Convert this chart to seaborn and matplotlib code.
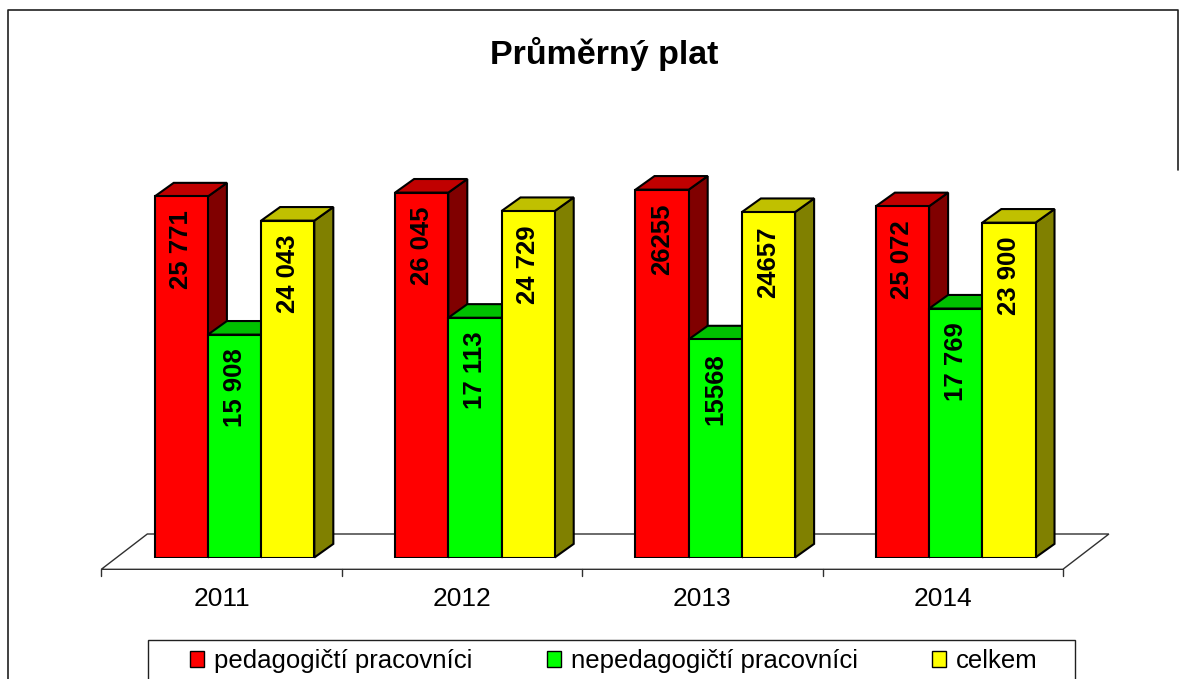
import numpy as np
import pandas as pd
import seaborn as sns
import matplotlib.pyplot as plt
from matplotlib.patches import Polygon, Rectangle, Patch
from matplotlib.lines import Line2D
from matplotlib.transforms import IdentityTransform

# Data
years = ['2011', '2012', '2013', '2014']
series = ['pedagogičtí pracovníci', 'nepedagogičtí pracovníci', 'celkem']
ped = [25771, 26045, 26255, 25072]
neped = [15908, 17113, 15568, 17769]
total = [24043, 24729, 24657, 23900]
ped_labels = ['25 771', '26 045', '26255', '25 072']
neped_labels = ['15 908', '17 113', '15568', '17 769']
total_labels = ['24 043', '24 729', '24657', '23 900']

front_colors = ['#FF0000', '#00FF00', '#FFFF00']
top_colors = ['#C00000', '#00C000', '#C0C000']
side_colors = ['#800000', '#008000', '#808000']

df = pd.DataFrame({
    'rok': years * 3,
    'skupina': np.repeat(series, len(years)),
    'plat': ped + neped + total,
})
labels = ped_labels + neped_labels + total_labels

sns.set_style('white')
plt.rcParams['font.family'] = ['Liberation Sans', 'DejaVu Sans']
plt.rcParams['text.color'] = 'black'

W, H = 1186, 679
fig = plt.figure(figsize=(W / 100, H / 100), dpi=100)
ax = fig.add_axes([114.3 / W, 1 - 557.5 / H, 961.6 / W, 420.3 / H])

sns.barplot(data=df, x='rok', y='plat', hue='skupina', order=years,
            hue_order=series, palette=front_colors, width=0.664,
            saturation=1, edgecolor='black', linewidth=1.5,
            errorbar=None, legend=False, ax=ax)
ax.set_xlim(-0.5, 3.5)
ax.set_ylim(0, 30000)
ax.axis('off')

# depth of the fake 3D bars, in pixels -> data units
DX, DY = 19, 13.6
p0 = ax.transData.transform((0, 0))
p1 = ax.transData.transform((1, 1))
dx = DX / (p1[0] - p0[0])
dy = DY / (p1[1] - p0[1])

for i, p in enumerate(ax.patches):
    k = i // len(years)
    x0, w, h = p.get_x(), p.get_width(), p.get_height()
    p.set_zorder(3 + 2 * k)
    top = Polygon([(x0, h), (x0 + w, h), (x0 + w + dx, h + dy), (x0 + dx, h + dy)],
                  facecolor=top_colors[k], edgecolor='black', lw=1.5,
                  zorder=2 + 2 * k, clip_on=False)
    side = Polygon([(x0 + w, 0), (x0 + w + dx, dy), (x0 + w + dx, h + dy), (x0 + w, h)],
                   facecolor=side_colors[k], edgecolor='black', lw=1.5,
                   zorder=2 + 2 * k, clip_on=False)
    ax.add_patch(side)
    ax.add_patch(top)
    ax.annotate(labels[i], xy=(x0 + w / 2, h), xytext=(0, -14),
                textcoords='offset pixels', rotation=90, ha='center', va='top',
                fontsize=18.5, fontweight='bold', color='black', zorder=10)

# floor of the 3D plot
bl = ax.transAxes.transform((0, 0))
br = ax.transAxes.transform((1, 0))
FRONT = np.array([-13, -11.8])
BACK = np.array([33, 23.5])
floor = Polygon([bl + FRONT, br + FRONT, br + BACK, bl + BACK],
                facecolor='white', edgecolor='#303030', lw=1,
                transform=IdentityTransform(), zorder=1, clip_on=False)
ax.add_artist(floor)

# ticks and category labels along the front edge of the floor
fy = bl[1] + FRONT[1]
for b in np.arange(-0.5, len(years), 1.0):
    bx = ax.transData.transform((b, 0))[0] + FRONT[0]
    ax.add_artist(Line2D([bx, bx], [fy, fy - 7], color='#303030', lw=1,
                         transform=IdentityTransform(), clip_on=False))
for j, yr in enumerate(years):
    cx = ax.transData.transform((j, 0))[0] + FRONT[0]
    fig.text(cx, fy - 36.7, yr, ha='center', va='baseline', fontsize=19,
             transform=IdentityTransform())

fig.text(604 / W, 1 - 64.3 / H, 'Průměrný plat', ha='center', va='baseline',
         fontsize=24.5, fontweight='bold')

# outer chart border (right side only reaches part way down) and legend box
fig.add_artist(Line2D([8.3 / W, 8.3 / W, 1178 / W, 1178 / W],
                      [-0.1, 1 - 10 / H, 1 - 10 / H, 1 - 170 / H],
                      color='#202020', lw=1.2, transform=fig.transFigure))
fig.add_artist(Rectangle((148 / W, -0.1), (1075 - 148) / W, 0.1 + 1 - 640 / H,
                         fill=False, edgecolor='#202020', lw=1,
                         transform=fig.transFigure))

handles = [Patch(facecolor=c, edgecolor='black', lw=1) for c in front_colors]
fig.legend(handles, series, ncol=3, frameon=False, loc='upper left',
           bbox_to_anchor=(190 / W, 1 - 649 / H), fontsize=18.5,
           handlelength=0.56, handleheight=0.6, handletextpad=0.38,
           columnspacing=2.88, borderpad=0, borderaxespad=0)

fig.savefig('out.png', dpi=100)
